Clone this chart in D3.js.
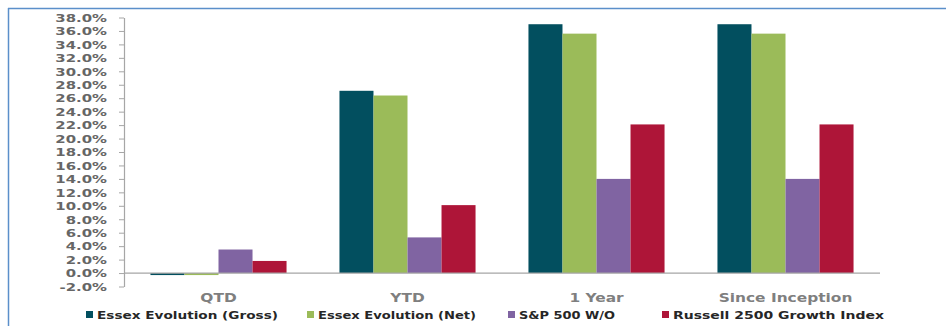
<!DOCTYPE html>
<html>
<head>
<meta charset="utf-8">
<script src="https://cdn.jsdelivr.net/npm/d3@7"></script>
<style>
  html, body { margin: 0; padding: 0; background: #fff; }
  svg { display: block; }
  text { font-family: "DejaVu Sans", Verdana, sans-serif; font-weight: bold; }
</style>
</head>
<body>
<svg id="chart" width="946" height="326"></svg>
<script>
const categories = ["QTD", "YTD", "1 Year", "Since Inception"];
const seriesNames = ["Essex Evolution (Gross)", "Essex Evolution (Net)", "S&P 500 W/O", "Russell 2500 Growth Index"];
const grossValues = [-0.3, 27.1, 37.0, 37.0];
const netValues = [-0.3, 26.4, 35.6, 35.6];
const spValues = [3.5, 5.3, 14.0, 14.0];
const russellValues = [1.8, 10.1, 22.1, 22.1];
const yTicks = [-2, 0, 2, 4, 6, 8, 10, 12, 14, 16, 18, 20, 22, 24, 26, 28, 30, 32, 34, 36, 38];
const seriesColors = ["#024f5f", "#9bbb59", "#8064a2", "#ae1538"];

const allValues = [grossValues, netValues, spValues, russellValues];

const svg = d3.select("#chart");

// frame lines
svg.append("line").attr("x1", 8).attr("x2", 946).attr("y1", 8.5).attr("y2", 8.5)
  .attr("stroke", "#5b8fca").attr("stroke-width", 1.5);
svg.append("line").attr("x1", 8.5).attr("x2", 8.5).attr("y1", 8).attr("y2", 326)
  .attr("stroke", "#5b8fca").attr("stroke-width", 1.5);

const y = d3.scaleLinear().domain([-2, 38]).range([286.5, 17.5]);
const x0 = d3.scaleBand().domain(categories).range([124, 880]).paddingInner(0.28).paddingOuter(0.14);
const x1 = d3.scaleBand().domain(seriesNames).range([0, x0.bandwidth()]).padding(0);

// y axis
const yAxis = d3.axisLeft(y).tickValues(yTicks).tickSize(5).tickSizeOuter(0)
  .tickFormat(d => d.toFixed(1) + "%");
const gy = svg.append("g").attr("transform", "translate(124,0)").call(yAxis);
gy.select(".domain").attr("stroke", "#a6a6a6").attr("stroke-width", 1.2);
gy.selectAll(".tick line").attr("stroke", "#a6a6a6");
const sx = 1.42;
gy.selectAll(".tick text")
  .attr("fill", "#666666").attr("font-size", "10.5px")
  .attr("x", -17 / sx).attr("dy", "0.36em")
  .attr("transform", `scale(${sx},1)`);

// bars
const groups = svg.append("g").selectAll("g").data(categories).join("g")
  .attr("transform", d => `translate(${x0(d)},0)`);
groups.selectAll("rect")
  .data((c, ci) => seriesNames.map((s, si) => ({ s, si, v: allValues[si][ci] })))
  .join("rect")
  .attr("x", d => x1(d.s))
  .attr("width", x1.bandwidth())
  .attr("y", d => y(Math.max(0, d.v)))
  .attr("height", d => Math.abs(y(d.v) - y(0)))
  .attr("fill", d => seriesColors[d.si]);

// zero line
svg.append("line").attr("x1", 124).attr("x2", 880).attr("y1", y(0)).attr("y2", y(0))
  .attr("stroke", "#a6a6a6").attr("stroke-width", 1.2);

// category labels
svg.append("g").selectAll("text").data(categories).join("text")
  .attr("transform", d => `translate(${x0(d) + x0.bandwidth() / 2},302) scale(1.34,1)`)
  .attr("text-anchor", "middle")
  .attr("fill", "#7f7f7f").attr("font-size", "11.5px")
  .text(d => d);

// legend
const legendX = [86, 307, 508, 662];
const legendW = [181, 158, 96, 211];
const legend = svg.append("g").selectAll("g").data(seriesNames).join("g")
  .attr("transform", (d, i) => `translate(${legendX[i]},0)`);
legend.append("rect").attr("x", 0).attr("y", 311).attr("width", 7).attr("height", 7)
  .attr("fill", (d, i) => seriesColors[i]);
legend.append("text")
  .attr("x", 11).attr("y", 318.5)
  .attr("fill", "#262626").attr("font-size", "10.5px")
  .attr("textLength", (d, i) => legendW[i])
  .attr("lengthAdjust", "spacingAndGlyphs")
  .text(d => d);
</script>
</body>
</html>
